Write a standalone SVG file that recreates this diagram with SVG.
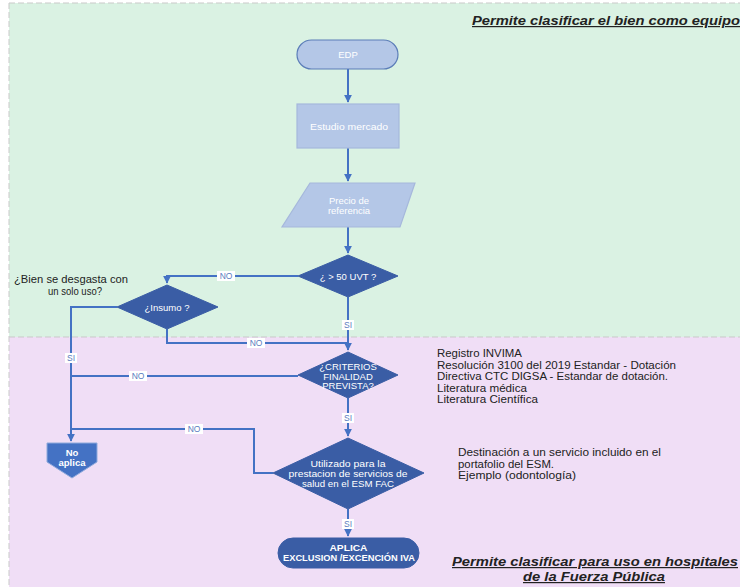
<svg xmlns="http://www.w3.org/2000/svg" width="740" height="587" viewBox="0 0 740 587">
<defs>
<style>
.bgline{stroke:#C9C9C9;stroke-width:1;stroke-dasharray:6 3;fill:none}
.conn{stroke:#4472C4;stroke-width:2;fill:none}
.light{fill:#B4C7E7;stroke:#A6B8DC;stroke-width:1.2}
.dia{fill:#3A5DA5;stroke:#3A5DA5;stroke-width:1}
.wt{font-family:"Liberation Sans",Arial,sans-serif;font-size:9.5px;fill:#FFFFFF;text-anchor:middle}
.bt{font-family:"Liberation Sans",Arial,sans-serif;font-size:11px;fill:#222222}
.ttl{font-family:"Liberation Sans",Arial,sans-serif;font-size:12px;font-weight:bold;font-style:italic;text-decoration:underline;fill:#222222}
.lbl{font-family:"Liberation Sans",Arial,sans-serif;font-size:8.5px;fill:#5B7DC0;text-anchor:middle}
.lblbg{fill:#FFFFFF}
</style>
<marker id="ah" viewBox="0 0 10 10" refX="9" refY="5" markerWidth="4" markerHeight="4" orient="auto" markerUnits="strokeWidth">
<path d="M0,0 L10,5 L0,10 z" fill="#4472C4"/>
</marker>
</defs>
<rect x="0" y="0" width="740" height="587" fill="#FFFFFF"/>
<rect x="9" y="3" width="735" height="334" fill="#DAF2E3"/>
<rect x="9" y="337" width="735" height="252" fill="#F0DEF6"/>
<path class="bgline" d="M9,3 H740 M9,3 V587 M9,337 H740"/>

<text class="ttl" x="472" y="25" textLength="268" lengthAdjust="spacingAndGlyphs">Permite clasificar el bien como equipo</text>
<text class="ttl" x="452" y="566" textLength="286" lengthAdjust="spacingAndGlyphs">Permite clasificar para uso en hospitales</text>
<text class="ttl" x="523" y="581" textLength="142" lengthAdjust="spacingAndGlyphs">de la Fuerza Pública</text>

<text class="bt" x="14" y="283" textLength="114" lengthAdjust="spacingAndGlyphs">¿Bien se desgasta con</text>
<text class="bt" x="48" y="295" textLength="54" lengthAdjust="spacingAndGlyphs">un solo uso?</text>

<g id="notes1">
<text class="bt" x="437" y="357" textLength="85" lengthAdjust="spacingAndGlyphs">Registro INVIMA</text>
<text class="bt" x="437" y="368.5" textLength="239" lengthAdjust="spacingAndGlyphs">Resolución 3100 del 2019 Estandar - Dotación</text>
<text class="bt" x="437" y="380" textLength="231" lengthAdjust="spacingAndGlyphs">Directiva CTC  DIGSA - Estandar de dotación.</text>
<text class="bt" x="437" y="391.5" textLength="90" lengthAdjust="spacingAndGlyphs">Literatura médica</text>
<text class="bt" x="437" y="403" textLength="101" lengthAdjust="spacingAndGlyphs">Literatura Científica</text>
</g>
<g id="notes2">
<text class="bt" x="458" y="456" textLength="203" lengthAdjust="spacingAndGlyphs">Destinación a un servicio incluido en el</text>
<text class="bt" x="458" y="467.5" textLength="96" lengthAdjust="spacingAndGlyphs">portafolio del ESM.</text>
<text class="bt" x="458" y="479" textLength="118" lengthAdjust="spacingAndGlyphs">Ejemplo (odontología)</text>
</g>

<g id="connectors">
<path class="conn" d="M348,69 V102" marker-end="url(#ah)"/>
<path class="conn" d="M348,148 V181" marker-end="url(#ah)"/>
<path class="conn" d="M348,227 V253" marker-end="url(#ah)"/>
<path class="conn" d="M298,276 H167 V283" marker-end="url(#ah)"/>
<path class="conn" d="M348,297 V350" marker-end="url(#ah)"/>
<path class="conn" d="M167,329 V343 H348"/>
<path class="conn" d="M117,307 H71 V441" marker-end="url(#ah)"/>
<path class="conn" d="M298,376 H71"/>
<path class="conn" d="M348,398 V436" marker-end="url(#ah)"/>
<path class="conn" d="M273,473 H254 V429 H71"/>
<path class="conn" d="M348,509 V536" marker-end="url(#ah)"/>
<rect class="lblbg" x="217" y="271" width="18" height="10"/>
<text class="lbl" x="226" y="279">NO</text>
<rect class="lblbg" x="342" y="320" width="12" height="10"/>
<text class="lbl" x="348" y="328">SI</text>
<rect class="lblbg" x="247" y="338" width="18" height="10"/>
<text class="lbl" x="256" y="346">NO</text>
<rect class="lblbg" x="65" y="353" width="12" height="10"/>
<text class="lbl" x="71" y="361">SI</text>
<rect class="lblbg" x="129" y="371" width="18" height="10"/>
<text class="lbl" x="138" y="379">NO</text>
<rect class="lblbg" x="342" y="413" width="12" height="10"/>
<text class="lbl" x="348" y="421">SI</text>
<rect class="lblbg" x="185" y="424" width="18" height="10"/>
<text class="lbl" x="194" y="432">NO</text>
<rect class="lblbg" x="342" y="519" width="12" height="10"/>
<text class="lbl" x="348" y="527">SI</text>
</g>

<g id="edp">
<rect x="297" y="40" width="101" height="29" rx="14.5" fill="#B4C7E7" stroke="#5B7DB8" stroke-width="1.2"/>
<text class="wt" x="348" y="58">EDP</text>
</g>
<g id="estudio">
<rect class="light" x="297" y="104" width="102" height="44"/>
<text class="wt" x="349" y="130" textLength="78" lengthAdjust="spacingAndGlyphs">Estudio mercado</text>
</g>
<g id="precio">
<polygon class="light" points="310,183 415,183 400,227 282,227"/>
<text class="wt" x="349" y="204">Precio de</text>
<text class="wt" x="349" y="214">referencia</text>
</g>
<g id="uvt">
<polygon class="dia" points="348,255 398,276 348,297 298,276"/>
<text class="wt" x="348" y="279.5">¿ &gt; 50 UVT ?</text>
</g>
<g id="insumo">
<polygon class="dia" points="167,285 218,307 167,329 117,307"/>
<text class="wt" x="167" y="310.5">¿Insumo ?</text>
</g>
<g id="criterios">
<polygon class="dia" points="348,352 398,375 348,398 298,375"/>
<text class="wt" x="348" y="370">¿CRITERIOS</text>
<text class="wt" x="348" y="379.5">FINALIDAD</text>
<text class="wt" x="348" y="389">PREVISTA?</text>
</g>
<g id="utilizado">
<polygon class="dia" points="348,438 424,473 348,509 273,473"/>
<text class="wt" x="348" y="467" textLength="75" lengthAdjust="spacingAndGlyphs">Utilizado para la</text>
<text class="wt" x="348" y="477" textLength="119" lengthAdjust="spacingAndGlyphs">prestacion de servicios de</text>
<text class="wt" x="348" y="487" textLength="92" lengthAdjust="spacingAndGlyphs">salud en el ESM FAC</text>
</g>
<g id="noaplica">
<polygon points="47,443 97,443 97,462 72,478 47,462" fill="#4472C4" stroke="#8FAADC" stroke-width="1"/>
<text class="wt" x="72" y="456" font-weight="bold">No</text>
<text class="wt" x="72" y="466" font-weight="bold">aplica</text>
</g>
<g id="aplica">
<rect x="278" y="538" width="141" height="30" rx="15" fill="#3A5DA5" stroke="#3A5DA5"/>
<text class="wt" x="348.5" y="551" font-weight="bold" textLength="38" lengthAdjust="spacingAndGlyphs">APLICA</text>
<text class="wt" x="349" y="561" font-weight="bold" textLength="132" lengthAdjust="spacingAndGlyphs">EXCLUSION /EXCENCIÓN IVA</text>
</g>
</svg>
